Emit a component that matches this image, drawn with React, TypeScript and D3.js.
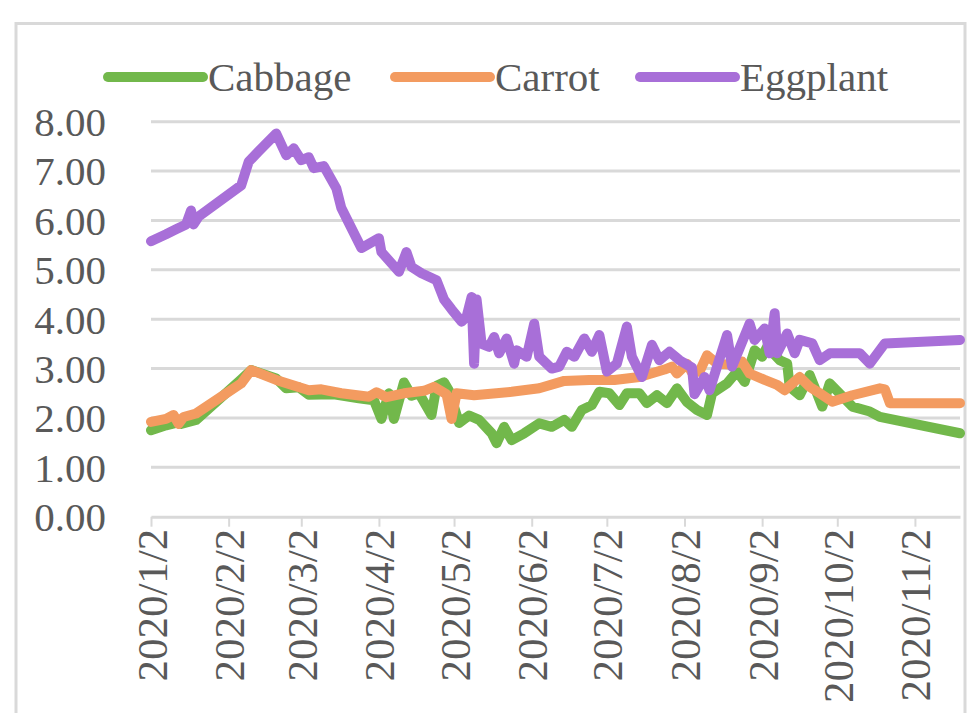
import React, { useEffect, useRef } from 'react';
import * as d3 from 'd3';

// daily wholesale prices (yuan/kg)
const cabbage: [string, number][] = [
  ['2020/1/2', 1.75], ['2020/1/8', 1.85], ['2020/1/12', 1.9], ['2020/1/14', 1.88], ['2020/1/20', 1.96],
  ['2020/2/7', 2.78], ['2020/2/11', 2.97], ['2020/2/21', 2.8], ['2020/2/25', 2.6], ['2020/3/1', 2.62],
  ['2020/3/5', 2.47], ['2020/3/15', 2.48], ['2020/3/25', 2.4], ['2020/3/31', 2.36], ['2020/4/3', 1.98],
  ['2020/4/6', 2.5], ['2020/4/8', 1.98], ['2020/4/12', 2.72], ['2020/4/15', 2.45], ['2020/4/18', 2.5],
  ['2020/4/23', 2.06], ['2020/4/25', 2.65], ['2020/4/28', 2.72], ['2020/4/30', 2.55], ['2020/5/4', 1.9],
  ['2020/5/8', 2.05], ['2020/5/12', 1.96], ['2020/5/17', 1.69], ['2020/5/19', 1.49], ['2020/5/22', 1.82],
  ['2020/5/25', 1.55], ['2020/5/30', 1.69], ['2020/6/5', 1.89], ['2020/6/10', 1.82], ['2020/6/15', 1.96],
  ['2020/6/18', 1.82], ['2020/6/22', 2.16], ['2020/6/26', 2.26], ['2020/6/29', 2.53], ['2020/7/3', 2.5],
  ['2020/7/7', 2.26], ['2020/7/10', 2.5], ['2020/7/15', 2.5], ['2020/7/18', 2.3], ['2020/7/22', 2.46],
  ['2020/7/26', 2.3], ['2020/7/30', 2.6], ['2020/8/3', 2.32], ['2020/8/7', 2.16], ['2020/8/11', 2.06],
  ['2020/8/13', 2.5], ['2020/8/19', 2.7], ['2020/8/23', 2.94], ['2020/8/26', 2.73], ['2020/8/30', 3.37],
  ['2020/9/2', 3.24], ['2020/9/4', 3.44], ['2020/9/9', 3.17], ['2020/9/12', 3.1], ['2020/9/13', 2.63],
  ['2020/9/17', 2.46], ['2020/9/21', 2.87], ['2020/9/26', 2.23], ['2020/9/29', 2.7], ['2020/10/8', 2.23],
  ['2020/10/15', 2.13], ['2020/10/19', 2.02], ['2020/11/20', 1.69],
];

const carrot: [string, number][] = [
  ['2020/1/2', 1.92], ['2020/1/8', 1.98], ['2020/1/11', 2.06], ['2020/1/13', 1.88], ['2020/1/15', 2.02],
  ['2020/1/20', 2.09], ['2020/2/7', 2.7], ['2020/2/11', 2.97], ['2020/2/21', 2.77], ['2020/3/5', 2.56],
  ['2020/3/10', 2.58], ['2020/3/18', 2.5], ['2020/3/29', 2.43], ['2020/4/1', 2.52], ['2020/4/5', 2.42],
  ['2020/4/12', 2.5], ['2020/4/20', 2.55], ['2020/4/24', 2.63], ['2020/4/29', 2.48], ['2020/5/1', 1.98],
  ['2020/5/3', 2.5], ['2020/5/10', 2.46], ['2020/5/25', 2.53], ['2020/6/5', 2.6], ['2020/6/15', 2.75],
  ['2020/6/25', 2.77], ['2020/7/5', 2.77], ['2020/7/15', 2.83], ['2020/7/25', 2.98], ['2020/7/28', 3.04],
  ['2020/7/30', 2.9], ['2020/8/3', 3.1], ['2020/8/5', 2.92], ['2020/8/8', 2.94], ['2020/8/11', 3.27],
  ['2020/8/15', 3.1], ['2020/8/20', 3.08], ['2020/8/25', 3.14], ['2020/8/28', 2.9], ['2020/9/3', 2.77],
  ['2020/9/8', 2.67], ['2020/9/11', 2.56], ['2020/9/17', 2.83], ['2020/9/21', 2.63], ['2020/9/25', 2.5],
  ['2020/9/30', 2.33], ['2020/10/8', 2.46], ['2020/10/19', 2.6], ['2020/10/21', 2.58], ['2020/10/23', 2.3],
  ['2020/11/20', 2.3],
];

const eggplant: [string, number][] = [
  ['2020/1/2', 5.58], ['2020/1/8', 5.72], ['2020/1/12', 5.82], ['2020/1/16', 5.92], ['2020/1/18', 6.2],
  ['2020/1/19', 5.92], ['2020/1/21', 6.08], ['2020/2/7', 6.71], ['2020/2/10', 7.19], ['2020/2/14', 7.4],
  ['2020/2/21', 7.76], ['2020/2/25', 7.32], ['2020/2/28', 7.46], ['2020/3/2', 7.22], ['2020/3/5', 7.28],
  ['2020/3/7', 7.06], ['2020/3/11', 7.1], ['2020/3/16', 6.65], ['2020/3/18', 6.25], ['2020/3/26', 5.44],
  ['2020/4/2', 5.64], ['2020/4/3', 5.36], ['2020/4/10', 4.96], ['2020/4/13', 5.36], ['2020/4/15', 5.06],
  ['2020/4/19', 4.93], ['2020/4/25', 4.79], ['2020/4/28', 4.4], ['2020/5/1', 4.2], ['2020/5/5', 3.95],
  ['2020/5/7', 4.05], ['2020/5/9', 4.45], ['2020/5/10', 3.1], ['2020/5/11', 4.4], ['2020/5/13', 3.5],
  ['2020/5/16', 3.44], ['2020/5/18', 3.64], ['2020/5/20', 3.31], ['2020/5/23', 3.61], ['2020/5/26', 3.1],
  ['2020/5/27', 3.37], ['2020/5/31', 3.24], ['2020/6/3', 3.91], ['2020/6/5', 3.24], ['2020/6/10', 3.0],
  ['2020/6/13', 3.04], ['2020/6/16', 3.34], ['2020/6/19', 3.24], ['2020/6/23', 3.61], ['2020/6/26', 3.34],
  ['2020/6/29', 3.68], ['2020/7/2', 2.94], ['2020/7/6', 3.1], ['2020/7/10', 3.85], ['2020/7/12', 3.24],
  ['2020/7/16', 2.83], ['2020/7/20', 3.48], ['2020/7/23', 3.17], ['2020/7/27', 3.34], ['2020/7/31', 3.17],
  ['2020/8/5', 3.02], ['2020/8/6', 2.48], ['2020/8/10', 2.83], ['2020/8/12', 2.56], ['2020/8/19', 3.68],
  ['2020/8/21', 3.04], ['2020/8/28', 3.91], ['2020/8/30', 3.58], ['2020/9/3', 3.81], ['2020/9/5', 3.31],
  ['2020/9/7', 4.12], ['2020/9/8', 3.31], ['2020/9/12', 3.71], ['2020/9/15', 3.31], ['2020/9/17', 3.58],
  ['2020/9/22', 3.51], ['2020/9/25', 3.17], ['2020/9/29', 3.31], ['2020/10/11', 3.31], ['2020/10/15', 3.1],
  ['2020/10/21', 3.51], ['2020/11/20', 3.58],
];

const seriesNames = ['Cabbage', 'Carrot', 'Eggplant'];
const xTickLabels = [
  '2020/1/2', '2020/2/2', '2020/3/2', '2020/4/2', '2020/5/2', '2020/6/2',
  '2020/7/2', '2020/8/2', '2020/9/2', '2020/10/2', '2020/11/2',
];
const xDomainEnd = '2020/11/20';
const yTicks = [0, 1, 2, 3, 4, 5, 6, 7, 8];

const colors = ['#72b84b', '#f39b60', '#a86fd8'];
const gridColor = '#d9d9d9';
const textColor = '#595959';
const font = '"Liberation Serif", "Times New Roman", serif';

const App = () => {
  const chartRef = useRef<SVGSVGElement>(null);

  useEffect(() => {
    const width = 969;
    const height = 713;
    const plotLeft = 151;
    const plotRight = 960;
    const plotTop = 121.7;
    const plotBottom = 516.7;

    const parse = d3.timeParse('%Y/%m/%d');
    const svg = d3.select(chartRef.current);
    svg.selectAll('*').remove();

    const x = d3.scaleTime()
      .domain([parse(xTickLabels[0]) as Date, parse(xDomainEnd) as Date])
      .range([plotLeft, plotRight]);

    const y = d3.scaleLinear()
      .domain([0, 8])
      .range([plotBottom, plotTop]);

    // outer frame (bottom edge runs off the picture)
    svg.append('rect')
      .attr('x', 16)
      .attr('y', 23.5)
      .attr('width', 949)
      .attr('height', height)
      .attr('fill', 'white')
      .attr('stroke', gridColor)
      .attr('stroke-width', 3);

    // horizontal gridlines
    svg.append('g')
      .selectAll('line')
      .data(yTicks.filter(d => d > 0))
      .join('line')
      .attr('x1', plotLeft)
      .attr('x2', plotRight)
      .attr('y1', d => y(d))
      .attr('y2', d => y(d))
      .attr('stroke', gridColor)
      .attr('stroke-width', 3);

    // y labels
    svg.append('g')
      .selectAll('text')
      .data(yTicks)
      .join('text')
      .attr('x', 106)
      .attr('y', d => y(d))
      .attr('dy', '0.35em')
      .attr('text-anchor', 'end')
      .attr('fill', textColor)
      .style('font-family', font)
      .style('font-size', '41px')
      .text(d => d.toFixed(2));

    // x axis
    const xAxis = svg.append('g')
      .attr('transform', `translate(0,${plotBottom})`)
      .call(
        d3.axisBottom(x)
          .tickValues(xTickLabels.map(s => parse(s) as Date))
          .tickSize(10)
          .tickSizeOuter(0)
          .tickFormat((d, i) => xTickLabels[i])
      );
    xAxis.select('.domain').attr('stroke', gridColor).attr('stroke-width', 3);
    xAxis.selectAll('.tick line').attr('stroke', gridColor).attr('stroke-width', 2);
    xAxis.selectAll('.tick text')
      .attr('fill', textColor)
      .attr('transform', 'rotate(-90)')
      .attr('x', -12)
      .attr('y', 0)
      .attr('dy', '0.35em')
      .attr('text-anchor', 'end')
      .style('font-family', font)
      .style('font-size', '43px');

    // series lines
    const line = d3.line<[string, number]>()
      .x(d => x(parse(d[0]) as Date))
      .y(d => y(d[1]));

    [cabbage, carrot, eggplant].forEach((data, i) => {
      svg.append('path')
        .datum(data)
        .attr('fill', 'none')
        .attr('stroke', colors[i])
        .attr('stroke-width', 10)
        .attr('stroke-linejoin', 'round')
        .attr('stroke-linecap', 'round')
        .attr('d', line);
    });

    // legend
    const legendX = [108, 395, 640];
    const legend = svg.append('g').attr('transform', 'translate(0,77)');
    seriesNames.forEach((name, i) => {
      legend.append('line')
        .attr('x1', legendX[i])
        .attr('x2', legendX[i] + 95)
        .attr('y1', 0)
        .attr('y2', 0)
        .attr('stroke', colors[i])
        .attr('stroke-width', 10)
        .attr('stroke-linecap', 'round');
      legend.append('text')
        .attr('x', legendX[i] + 100)
        .attr('y', 0)
        .attr('dy', '0.35em')
        .attr('fill', textColor)
        .style('font-family', font)
        .style('font-size', '41px')
        .text(name);
    });

    svg.attr('width', width).attr('height', height);
  }, []);

  return (
    <svg
      ref={chartRef}
      width={969}
      height={713}
      style={{ position: 'absolute', left: 0, top: 0, background: 'white' }}
    />
  );
};

export default App;
